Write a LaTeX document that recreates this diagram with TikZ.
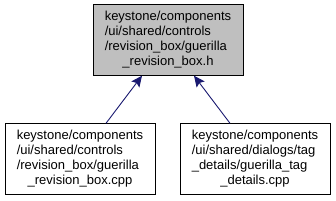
\documentclass[tikz,border=0pt]{standalone}
\usepackage{fontspec}
\setmainfont{Liberation Sans}
\usepackage{tikz}
\usetikzlibrary{arrows.meta, positioning}

\definecolor{edgeblue}{HTML}{191970}
\definecolor{nodegray}{HTML}{BFBFBF}

\begin{document}
\begin{tikzpicture}[
  x=1pt, y=1pt,
  filenode/.style={draw, fill=white, inner sep=0pt, minimum width=150pt, minimum height=71pt, font=\fontsize{13}{15}\selectfont},
  edge/.style={-{Stealth[length=11pt, width=10pt, inset=2pt]}, edgeblue, line width=0.9pt}
]
  \useasboundingbox (0,0) rectangle (336,200);

  \node[filenode, fill=nodegray] (header) at (168,160) {\begin{tabular}{@{}l@{}}keystone/components\\/ui/shared/controls\\/revision\_box/guerilla\\\multicolumn{1}{@{}c@{}}{\_revision\_box.h}\end{tabular}};
  \node[filenode] (boxcpp) at (80,41) {\begin{tabular}{@{}l@{}}keystone/components\\/ui/shared/controls\\/revision\_box/guerilla\\\multicolumn{1}{@{}c@{}}{\_revision\_box.cpp}\end{tabular}};
  \node[filenode] (tagcpp) at (255,41) {\begin{tabular}{@{}l@{}}keystone/components\\/ui/shared/dialogs/tag\\\_details/guerilla\_tag\\\multicolumn{1}{@{}c@{}}{\_details.cpp}\end{tabular}};

  \draw[edge] ([xshift=26pt]boxcpp.north) -- ([xshift=-26pt]header.south);
  \draw[edge] ([xshift=-25pt]tagcpp.north) -- ([xshift=26pt]header.south);
\end{tikzpicture}
\end{document}
